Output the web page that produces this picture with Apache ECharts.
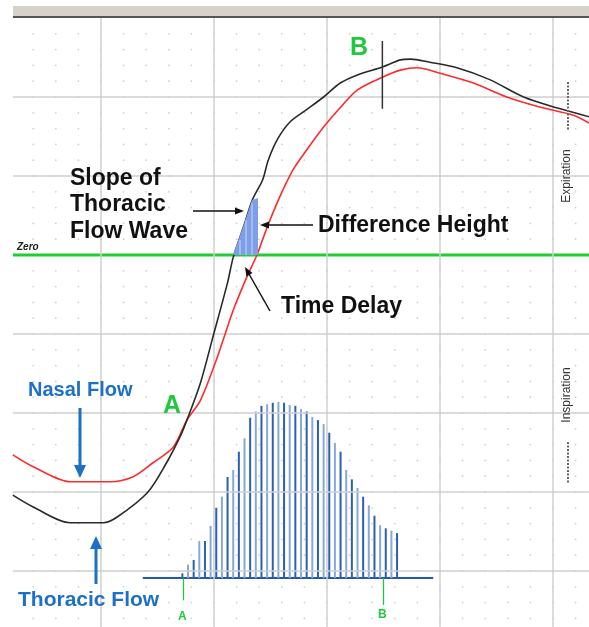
<!DOCTYPE html>
<html><head><meta charset="utf-8">
<script src="https://cdn.jsdelivr.net/npm/echarts@6/dist/echarts.min.js"></script>
<style>html,body{margin:0;padding:0;background:#fff}#c{width:589px;height:627px}</style>
</head><body><div id="c"></div>
<script>
// Thoracic flow (black)
const thoracicX = [2.2, 4.0, 7.3, 10.2, 11.4, 14.1, 15.8, 17.0, 17.6, 18.8, 19.9, 21.2, 21.7, 22.6, 23.4, 24.3, 24.8, 25.6, 26.7, 28.2, 29.7, 31.2, 32.7, 34.9, 36.5, 37.4, 39.1, 41.5, 44.4, 47.4, 50.4, 53.2];
const thoracicY = [-30.4, -31.9, -33.9, -33.9, -33.2, -30.1, -26.3, -23.0, -20.9, -16.2, -10.4, -3.5, -0.3, 3.5, 7.0, 9.5, 12.0, 14.6, 16.8, 18.4, 20.0, 21.8, 22.8, 23.8, 24.7, 24.8, 24.4, 23.7, 22.2, 20.0, 18.6, 17.5];
// Nasal flow (red)
const nasalX = [2.2, 4.0, 7.3, 10.8, 12.8, 14.6, 16.4, 17.6, 18.8, 20.3, 21.7, 22.9, 23.8, 24.7, 25.8, 27.0, 28.2, 29.7, 31.2, 32.7, 34.9, 36.5, 38.0, 40.0, 42.9, 45.9, 48.9, 51.8, 53.2];
const nasalY = [-25.3, -26.8, -28.7, -28.7, -28.1, -26.3, -24.3, -20.9, -18.4, -12.9, -7.0, -2.8, 0.0, 3.5, 7.3, 10.8, 13.3, 16.2, 18.7, 20.9, 22.5, 23.4, 23.7, 23.0, 21.8, 20.0, 18.7, 17.7, 16.7];
// Difference histogram
const histBase = -40.9;
const histX = [17.2, 17.7, 18.2, 18.7, 19.2, 19.7, 20.2, 20.7, 21.2, 21.7, 22.2, 22.7, 23.2, 23.7, 24.2, 24.7, 25.2, 25.7, 26.2, 26.7, 27.2, 27.7, 28.2, 28.7, 29.2, 29.7, 30.2, 30.7, 31.2, 31.7, 32.2, 32.7, 33.2, 33.7, 34.2, 34.7, 35.2, 35.7, 36.2];
const histH = [0.6, 1.7, 2.3, 4.7, 4.7, 6.6, 8.9, 10.3, 12.8, 13.7, 16.0, 17.7, 20.3, 21.1, 21.8, 22.0, 22.2, 22.3, 22.2, 21.9, 21.8, 21.4, 21.1, 20.4, 20.0, 19.5, 18.4, 17.1, 16.0, 13.7, 12.5, 11.4, 10.3, 9.2, 7.9, 6.7, 6.3, 6.0, 5.7];
const histSpan = [13.7, 39.4];
const markA = 17.3, markB = 35.0;
// grid lines
const xMajor = [10, 20, 30, 40, 50];
const yMajor = [20, 10, 0, -10, -20, -30, -40];

const X_MIN = 2.2124, X_MAX = 53.186, Y_MIN = -47.09, Y_MAX = 30;
const dots = [];
for (let x = 4; x <= X_MAX; x += 2) for (let y = -46; y <= 28; y += 2) dots.push([x, y]);

const chart = echarts.init(document.getElementById('c'), null, {renderer: 'canvas'});
const green = '#1fc83c', blue = '#1e6fc8';
const txt = (t, x, y, font, fill) => ({type: 'text', x, y, z: 100, style: {text: t, x: 0, y: 0, font, fill, verticalAlign: 'middle'}});
const line = (x1, y1, x2, y2, stroke, w, dash) => ({type: 'line', z: 100, shape: {x1, y1, x2, y2}, style: {stroke, lineWidth: w, lineDash: dash || null}});
const head = (tx, ty, dx, dy, fill, size, wid) => {
  const len = Math.hypot(dx, dy), ux = dx / len, uy = dy / len;
  const bx = tx - ux * size, by = ty - uy * size;
  return {type: 'polygon', z: 100, shape: {points: [[tx, ty], [bx - uy * wid, by + ux * wid], [bx + uy * wid, by - ux * wid]]}, style: {fill}};
};
const gridLS = {color: '#cfcfcf', width: 1.5, type: 'solid'};

chart.setOption({
  animation: false,
  grid: {left: 13, right: 0, top: 18, bottom: 0},
  xAxis: {type: 'value', min: X_MIN, max: X_MAX, axisLine: {show: false}, axisTick: {show: false}, axisLabel: {show: false}, splitLine: {show: false}},
  yAxis: {type: 'value', min: Y_MIN, max: Y_MAX, axisLine: {show: false}, axisTick: {show: false}, axisLabel: {show: false}, splitLine: {show: false}},
  series: [
    {type: 'scatter', data: dots, symbolSize: 1.8, itemStyle: {color: '#c4c4c4'}, silent: true, z: 1,
      markLine: {silent: true, symbol: 'none', label: {show: false}, lineStyle: gridLS, animation: false,
        data: xMajor.map(v => ({xAxis: v})).concat(yMajor.filter(v => v !== 0).map(v => ({yAxis: v})))}},
    {type: 'line', data: [[X_MIN, 0], [X_MAX, 0]], symbol: 'none', lineStyle: {color: '#22cc33', width: 3}, z: 2, silent: true},
    {type: 'line', data: [[histSpan[0], histBase], [histSpan[1], histBase]], symbol: 'none', lineStyle: {color: '#2458a8', width: 2}, z: 3},
    {type: 'custom', z: 4, data: histX.map((x, i) => [x, histBase + histH[i]]), encode: {x: 0, y: 1},
      renderItem: (params, api) => {
        const p0 = api.coord([api.value(0), histBase]);
        const p1 = api.coord([api.value(0), api.value(1)]);
        return {type: 'line', shape: {x1: p0[0], y1: p0[1], x2: p1[0], y2: p1[1]},
          style: {stroke: params.dataIndex % 2 ? '#86a8dc' : '#2a5fb2', lineWidth: 2}};
      }},
    {type: 'line', data: [[markA, histBase], [markA, -43.7]], symbol: 'none', itemStyle: {color: green}, lineStyle: {color: green, width: 1.3}, z: 3},
    {type: 'line', data: [[markB, histBase], [markB, -44.3]], symbol: 'none', itemStyle: {color: green}, lineStyle: {color: green, width: 1.3}, z: 3},
    {type: 'line', data: [[34.9, 27.1], [34.9, 18.5]], symbol: 'none', itemStyle: {color: '#333'}, lineStyle: {color: '#333', width: 1.5}, z: 6},
    {type: 'line', name: 'Nasal Flow', data: nasalX.map((x, i) => [x, nasalY[i]]), symbol: 'none', smooth: 0.3,
      lineStyle: {color: '#ff2a2a', width: 1.6}, z: 5},
    {type: 'line', name: 'Thoracic Flow', data: thoracicX.map((x, i) => [x, thoracicY[i]]), symbol: 'none', smooth: 0.3,
      lineStyle: {color: '#2a2a2a', width: 1.6}, z: 5}
  ],
  graphic: [
    {type: 'rect', z: 91, shape: {x: 13, y: 6, width: 576, height: 11}, style: {fill: '#d6d2ca'}},
    {type: 'rect', z: 91, shape: {x: 13, y: 16, width: 576, height: 2}, style: {fill: '#555'}},
    {type: 'polygon', z: 95, shape: {points: [[233, 255], [243, 227], [252, 200], [258, 198], [258, 255]]}, style: {fill: '#7d9fe8'}},
    line(240, 240, 240, 255, '#c8d8f8', 1), line(246, 220, 246, 255, '#c8d8f8', 1), line(252, 203, 252, 255, '#c8d8f8', 1),
    txt('Zero', 17, 247, 'italic bold 10px "Liberation Sans"', '#222'),
    txt('Slope of', 70, 179, 'bold 23px "Liberation Sans"', '#111'),
    txt('Thoracic', 70, 205, 'bold 23px "Liberation Sans"', '#111'),
    txt('Flow Wave', 70, 232, 'bold 23px "Liberation Sans"', '#111'),
    txt('Difference Height', 318, 226, 'bold 23px "Liberation Sans"', '#111'),
    txt('Time Delay', 281, 307, 'bold 23px "Liberation Sans"', '#111'),
    txt('Nasal Flow', 28, 390, 'bold 20px "Liberation Sans"', blue),
    txt('Thoracic Flow', 18, 600, 'bold 21px "Liberation Sans"', blue),
    txt('A', 163, 406, 'bold 25px "Liberation Sans"', green),
    txt('B', 350, 48, 'bold 25px "Liberation Sans"', green),
    txt('A', 178, 617, 'bold 12px "Liberation Sans"', green),
    txt('B', 378, 615, 'bold 12px "Liberation Sans"', green),
    {type: 'text', z: 100, x: 567, y: 176, rotation: Math.PI / 2, style: {text: 'Expiration', font: '12px "Liberation Sans"', fill: '#333', align: 'center', verticalAlign: 'middle'}},
    {type: 'text', z: 100, x: 567, y: 395, rotation: Math.PI / 2, style: {text: 'Inspiration', font: '12px "Liberation Sans"', fill: '#333', align: 'center', verticalAlign: 'middle'}},
    line(568, 82, 568, 130, '#666', 2, [2, 1.5]),
    line(568, 442, 568, 484, '#666', 2, [2, 1.5]),
    line(193, 211, 236, 211, '#111', 1.5), head(244, 211, 1, 0, '#111', 9, 3.5),
    line(268, 225, 313, 225, '#111', 1.5), head(260, 225, -1, 0, '#111', 9, 3.5),
    line(270, 311, 249, 274, '#111', 1.5), head(245, 267, -25, -44, '#111', 9, 3.5),
    line(80, 408, 80, 466, blue, 3), head(80, 478, 0, 1, blue, 13, 6),
    line(96, 584, 96, 549, blue, 3), head(96, 536, 0, -1, blue, 13, 6)
  ]
});
</script></body></html>
